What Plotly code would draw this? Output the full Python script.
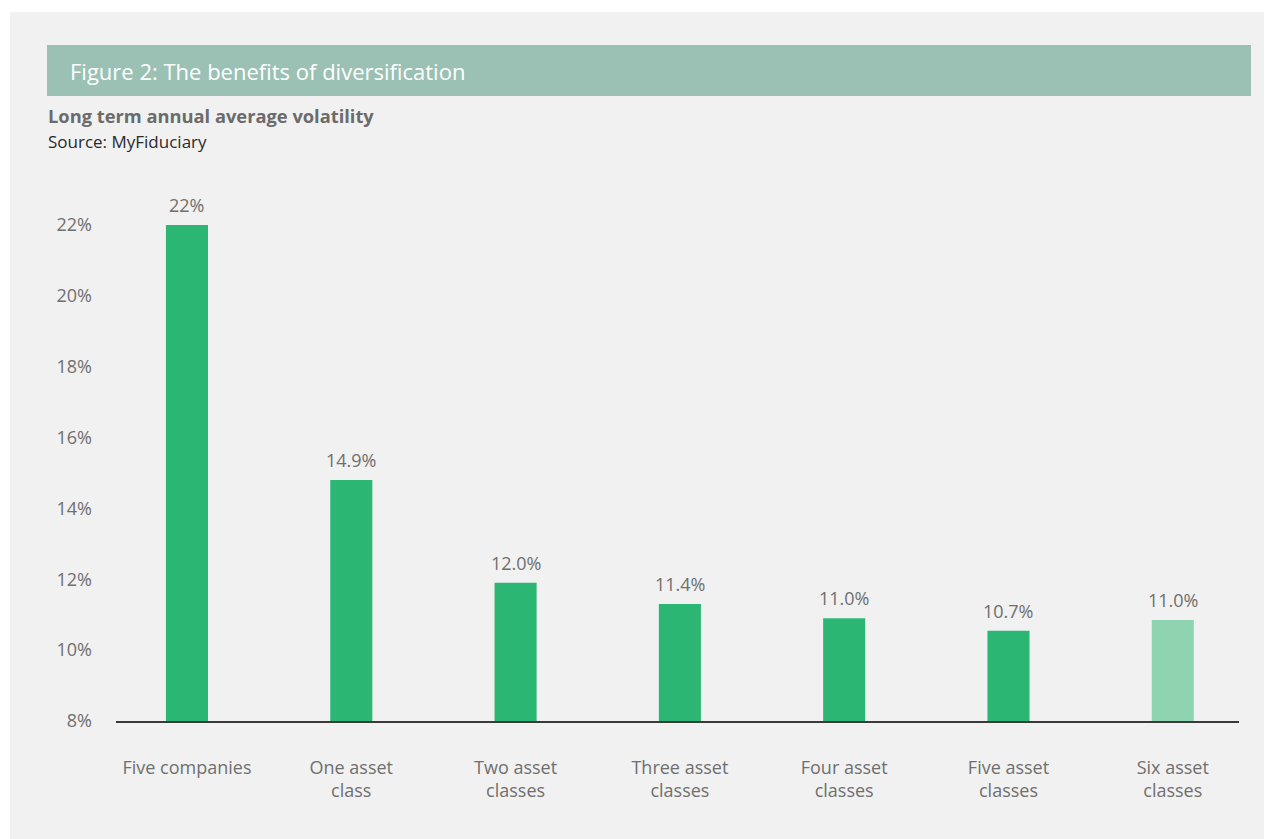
import plotly.graph_objects as go

categories = ["Five companies", "One asset<br>class", "Two asset<br>classes", "Three asset<br>classes",
              "Four asset<br>classes", "Five asset<br>classes", "Six asset<br>classes"]
values = [22.0, 14.8, 11.9, 11.3, 10.9, 10.55, 10.85]
labels = ["22%", "14.9%", "12.0%", "11.4%", "11.0%", "10.7%", "11.0%"]
bar_colors = ["#2bb673"] * 6 + ["#8fd4b1"]
ytick_vals = [8, 10, 12, 14, 16, 18, 20, 22]
ytick_text = ["8%", "10%", "12%", "14%", "16%", "18%", "20%", "22%"]

W, H = 1272, 839
OFF = 8  # page body margin offset
L, R, T, B = 116 - OFF, 1239 - OFF, 170 - OFF, 721 - OFF
pw, ph = R - L, B - T


def px(x):
    return (x - OFF - L) / pw


def py(y):
    return (B - (y - OFF)) / ph


FONT = "Open Sans"
GREY = "#6f6f6f"

xs = list(range(len(categories)))

fig = go.Figure()
fig.add_trace(go.Bar(
    x=xs,
    y=[v - 8 for v in values],
    base=8,
    width=0.256,
    marker=dict(color=bar_colors, line=dict(width=0)),
    cliponaxis=False,
    hoverinfo="skip",
))

value_labels = [
    dict(text=t, x=x, y=v, xref="x", yref="y", xanchor="center", yanchor="middle",
         yshift=20, showarrow=False, font=dict(family=FONT, size=18, color=GREY))
    for x, v, t in zip(xs, values, labels)
]

fig.update_layout(
    width=W, height=H,
    margin=dict(l=L, r=W - R, t=T, b=H - B, pad=0),
    paper_bgcolor="white",
    plot_bgcolor="rgba(0,0,0,0)",
    showlegend=False,
    font=dict(family=FONT, color=GREY),
    xaxis=dict(
        range=[-0.432, 6.403],
        tickmode="array",
        tickvals=xs,
        ticktext=categories,
        tickfont=dict(family=FONT, size=18, color=GREY),
        showgrid=False, zeroline=False,
        showline=True, linecolor="#3a3a3a", linewidth=2,
        ticks="", ticklabelstandoff=29,
        fixedrange=True,
    ),
    yaxis=dict(
        range=[8, 8 + (B - T) / 35.43],
        tickmode="array",
        tickvals=ytick_vals,
        ticktext=ytick_text,
        tickfont=dict(family=FONT, size=18, color=GREY),
        showgrid=False, zeroline=False, showline=False,
        ticks="", ticklabelstandoff=23,
        fixedrange=True,
    ),
    shapes=[
        dict(type="rect", xref="paper", yref="paper", layer="below",
             x0=px(10), x1=px(1290), y0=py(12), y1=py(860),
             fillcolor="#f1f1f1", line=dict(width=0)),
        dict(type="rect", xref="paper", yref="paper", layer="below",
             x0=px(47), x1=px(1251), y0=py(45), y1=py(96),
             fillcolor="#9bc1b4", line=dict(width=0)),
    ],
    annotations=[
        dict(text="Figure 2: The benefits of diversification", xref="paper", yref="paper",
             x=px(68), y=py(71), xanchor="left", yanchor="middle", showarrow=False,
             font=dict(family=FONT, size=22, color="white")),
        dict(text="<b>Long term annual average volatility</b>", xref="paper", yref="paper",
             x=px(46), y=py(116), xanchor="left", yanchor="middle", showarrow=False,
             font=dict(family=FONT, size=18.3, color="#6b6b6b")),
        dict(text="Source: MyFiduciary", xref="paper", yref="paper",
             x=px(46), y=py(141), xanchor="left", yanchor="middle", showarrow=False,
             font=dict(family=FONT, size=17, color="#2a2a2a")),
    ] + value_labels,
)

fig.write_html("out.html")
